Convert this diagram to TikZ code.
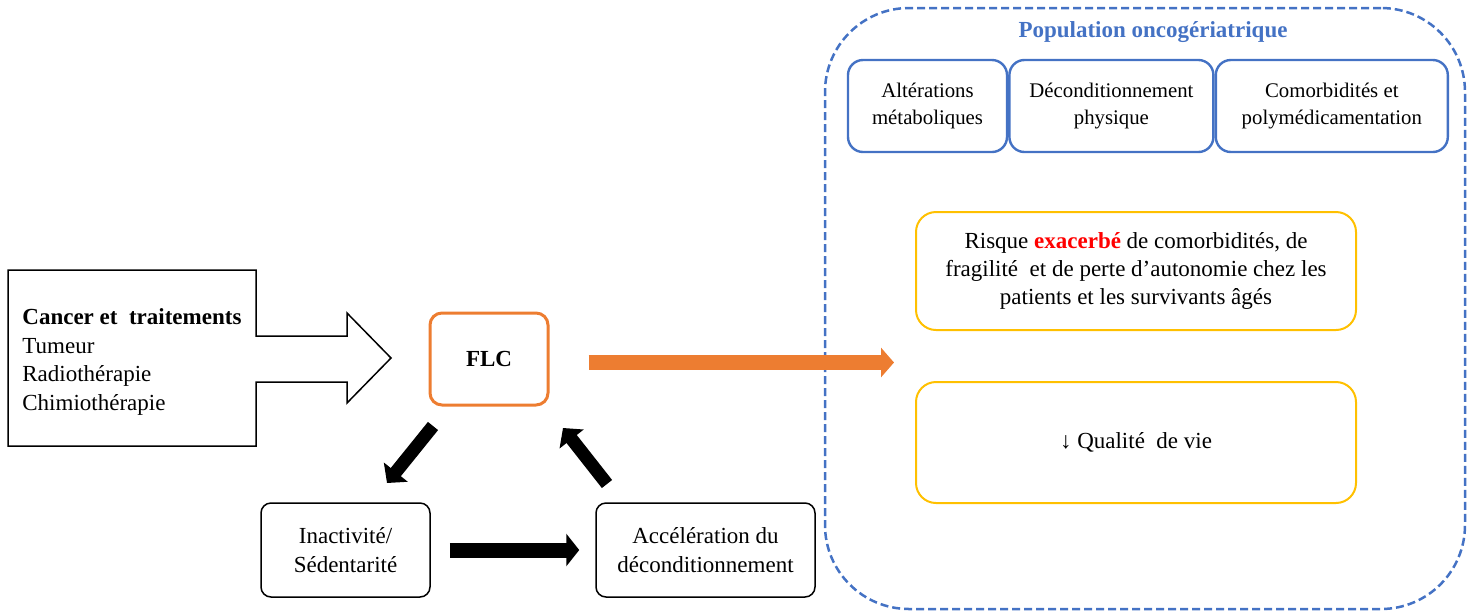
\documentclass[tikz,border=0pt]{standalone}
\usepackage{fontspec}
\setmainfont{Liberation Serif}
\usetikzlibrary{positioning, arrows.meta}
\definecolor{popblue}{HTML}{4472C4}
\definecolor{flcorange}{HTML}{ED7D31}
\definecolor{riskyellow}{HTML}{FFC000}

\begin{document}
\begin{tikzpicture}[
  x=0.5pt, y=-0.5pt,
  every node/.style={font=\fontsize{11.5}{14.2}\selectfont, align=center, inner sep=0pt},
  cyclebox/.style={draw, rounded corners=5pt, line width=0.75pt, minimum height=47pt},
  popbox/.style={draw=popblue, rounded corners=7.5pt, line width=1.2pt, minimum height=46pt,
                 font=\fontsize{10.4}{13.6}\selectfont},
  riskbox/.style={draw=riskyellow, rounded corners=10pt, line width=1pt, minimum width=220pt},
  fatarr/.style={-{Triangle[length=7pt, width=15pt]}, line width=6.5pt},
  orarr/.style={-{Triangle[length=6.5pt, width=14.5pt]}, line width=7.5pt, draw=flcorange}
]
  \useasboundingbox (0,0) rectangle (1473,612);

  % cancer box with hollow arrow
  \draw[line width=0.75pt] (8,270) -- (256,270) -- (256,336) -- (347,336) -- (347,313)
    -- (391,358) -- (347,403) -- (347,382) -- (256,382) -- (256,446) -- (8,446) -- cycle;
  \node[anchor=west, align=left] (cancer) at (22,362)
    {\textbf{Cancer et~ traitements}\\Tumeur\\Radiothérapie\\Chimiothérapie};

  % cycle
  \node[draw=flcorange, line width=1.5pt, rounded corners=6pt, minimum width=59pt,
        minimum height=46pt] (flc) at (489,359) {\bfseries FLC};
  \node[cyclebox, minimum width=84.5pt]  (inact) at (345.5,550) {Inactivité/\\Sédentarité};
  \node[cyclebox, minimum width=109.5pt] (accel) at (705.5,550) {Accélération du\\déconditionnement};

  \coordinate (d1s) at (433,426);
  \coordinate (d1e) at (387,483);
  \coordinate (u1s) at (607,484);
  \coordinate (u1e) at (563,428);
  \draw[fatarr] (d1s) -- (d1e);
  \draw[fatarr] (u1s) -- (u1e);
  \draw[fatarr, line width=7.5pt, -{Triangle[length=6.5pt, width=16pt]},
        shorten <=9.5pt, shorten >=8pt] (inact) -- (accel);

  % population
  \node[draw=popblue, dash pattern=on 4pt off 2pt, line width=1.25pt, rounded corners=42pt,
        minimum width=320pt, minimum height=300.5pt] (popu) at (1145,308.5) {};
  \node[text=popblue] (title) at (1153,32) {\bfseries Population oncogériatrique};

  \node[popbox, minimum width=79.5pt] (alter) at (927.5,106) {Altérations\\métaboliques};
  \node[popbox, minimum width=102pt, right=0pt of alter] (decond) {Déconditionnement\\physique};
  \node[popbox, minimum width=116pt, right=0pt of decond] (comorb) {Comorbidités et\\polymédicamentation};

  \node[riskbox, minimum height=59pt] (risque) at (1136,271)
    {Risque \textcolor{red}{\textbf{exacerbé}} de comorbidités, de\\fragilité~ et de perte d’autonomie chez les\\patients et les survivants âgés};
  \node[riskbox, minimum height=60.5pt] (qualite) at (1136,442.5) {↓ Qualité~ de vie};

  \draw[orarr, shorten <=19.5pt, shorten >=10.5pt]
    ([yshift=-1.75pt]flc.east) -- ([yshift=-1.75pt]flc.east -| risque.west);
\end{tikzpicture}
\end{document}
